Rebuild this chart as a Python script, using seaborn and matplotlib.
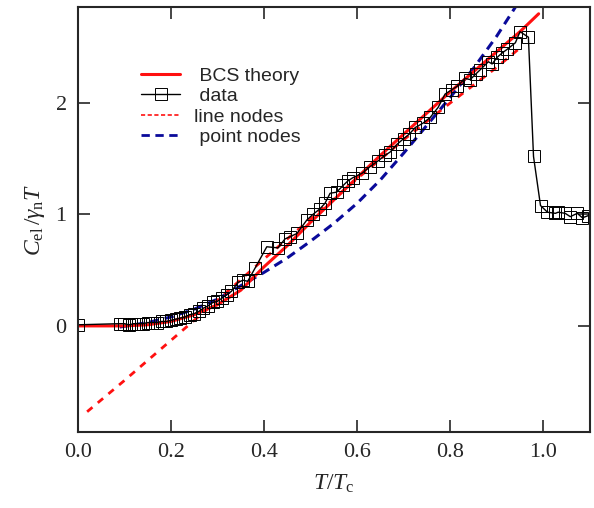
import seaborn as sns
import pandas as pd
import matplotlib.pyplot as plt
from matplotlib.lines import Line2D

# measured specific heat (T/Tc, C_el/gamma_n T)
data_T = [0.0, 0.09, 0.10, 0.11, 0.12, 0.13, 0.14, 0.15, 0.16, 0.17, 0.18, 0.19,
          0.20, 0.21, 0.22, 0.23, 0.24, 0.25, 0.26, 0.27, 0.28, 0.29, 0.30, 0.31,
          0.32, 0.33, 0.344, 0.355, 0.365, 0.381, 0.406, 0.43, 0.445, 0.456, 0.471,
          0.492, 0.505, 0.52, 0.531, 0.542, 0.556, 0.57, 0.58, 0.591, 0.611, 0.628,
          0.645, 0.66, 0.671, 0.686, 0.70, 0.712, 0.725, 0.742, 0.757, 0.774, 0.789,
          0.804, 0.815, 0.832, 0.843, 0.855, 0.865, 0.882, 0.89, 0.901, 0.912, 0.922,
          0.94, 0.95, 0.968, 0.979, 0.994, 1.009, 1.026, 1.032, 1.047, 1.058, 1.073,
          1.084, 1.097]
data_C = [0.01, 0.02, 0.02, 0.01, 0.02, 0.02, 0.02, 0.03, 0.03, 0.03, 0.04, 0.04,
          0.05, 0.06, 0.07, 0.08, 0.10, 0.11, 0.13, 0.16, 0.18, 0.21, 0.22, 0.25,
          0.28, 0.31, 0.39, 0.41, 0.40, 0.52, 0.71, 0.70, 0.78, 0.80, 0.83,
          0.95, 1.00, 1.05, 1.10, 1.19, 1.20, 1.26, 1.30, 1.33, 1.37, 1.43,
          1.48, 1.53, 1.56, 1.63, 1.68, 1.72, 1.78, 1.82, 1.87, 1.96, 2.08,
          2.12, 2.15, 2.22, 2.21, 2.26, 2.30, 2.37, 2.35, 2.41, 2.45, 2.48,
          2.54, 2.64, 2.59, 1.52, 1.08, 1.02, 1.01, 1.02, 1.01, 0.98, 1.01,
          0.97, 0.99]

# BCS theory curve
bcs_T = [0.0, 0.05, 0.10, 0.15, 0.20, 0.25, 0.30, 0.35, 0.40, 0.45, 0.50, 0.55,
         0.60, 0.65, 0.70, 0.75, 0.80, 0.85, 0.90, 0.95, 0.99]
bcs_C = [0.0, 0.0, 0.0, 0.01, 0.04, 0.10, 0.19, 0.32, 0.53, 0.72, 0.93, 1.13,
         1.33, 1.53, 1.72, 1.91, 2.10, 2.28, 2.46, 2.64, 2.80]

# line nodes
line_T = [0.02, 0.10, 0.20, 0.30, 0.40, 0.50, 0.60, 0.70, 0.80, 0.90, 0.946]
line_C = [-0.77, -0.49, -0.13, 0.23, 0.60, 0.96, 1.32, 1.67, 2.00, 2.32, 2.48]

# point nodes
point_T = [0.09, 0.15, 0.20, 0.25, 0.30, 0.35, 0.40, 0.45, 0.50, 0.55, 0.60,
           0.65, 0.70, 0.75, 0.80, 0.85, 0.90, 0.94]
point_C = [-0.01, 0.03, 0.08, 0.15, 0.24, 0.36, 0.48, 0.61, 0.76, 0.92, 1.10,
           1.31, 1.55, 1.80, 2.05, 2.31, 2.60, 2.86]

sns.set_theme(style="ticks", rc={
    "axes.linewidth": 1.5,
    "xtick.direction": "in", "ytick.direction": "in",
    "xtick.top": True, "ytick.right": True,
    "xtick.major.size": 8.5, "ytick.major.size": 8.5,
    "xtick.major.width": 1.2, "ytick.major.width": 1.2,
    "mathtext.fontset": "custom",
    "mathtext.rm": "Liberation Serif",
    "mathtext.it": "Liberation Serif:italic",
})
plt.rcParams["font.family"] = ["Liberation Serif", "DejaVu Serif"]

fig = plt.figure(figsize=(5.94, 5.08), dpi=100)
ax = fig.add_axes([0.131, 0.150, 0.862, 0.836])

sns.lineplot(x=point_T, y=point_C, ax=ax, color="#0a0a9a", lw=2.2,
             linestyle=(0, (3, 2)), sort=False)
sns.lineplot(x=line_T, y=line_C, ax=ax, color="#ff1010", lw=2.0,
             linestyle=(0, (2.5, 2.5)), sort=False)
sns.lineplot(x=bcs_T, y=bcs_C, ax=ax, color="#ff1010", lw=2.2, sort=False)
sns.lineplot(x=data_T, y=data_C, ax=ax, color="black", lw=1.0, sort=False,
             marker="s", markersize=8, markerfacecolor="none",
             markeredgecolor="black", markeredgewidth=0.7)

ax.set_xlim(0, 1.1)
ax.set_ylim(-0.95, 2.86)
ax.set_xticks([0.0, 0.2, 0.4, 0.6, 0.8, 1.0])
ax.set_xticklabels(["0.0", "0.2", "0.4", "0.6", "0.8", "1.0"])
ax.set_yticks([0, 1, 2])
ax.set_yticklabels(["0", "1", "2"])
ax.tick_params(labelsize=16, pad=8)
ax.set_xlabel(r"$T/T_{\rm c}$", fontsize=17, labelpad=8)
ax.set_ylabel(r"$C_{\rm el}\,/\gamma_{\rm n}T$", fontsize=17, labelpad=6)

handles = [
    Line2D([], [], color="#ff1010", lw=2.2),
    Line2D([], [], color="black", lw=1.0, marker="s", markersize=8,
           markerfacecolor="none", markeredgewidth=0.7),
    Line2D([], [], color="#ff1010", lw=1.2, linestyle=(0, (2.5, 1.5))),
    Line2D([], [], color="#0a0a9a", lw=2.0, linestyle=(0, (3, 2))),
]
labels = [" BCS theory", " data", "line nodes", " point nodes"]
ax.legend(handles, labels, loc="upper left", bbox_to_anchor=(0.09, 0.90),
          frameon=False, fontsize=14, handlelength=2.0, handletextpad=0.7,
          labelspacing=0.15, prop={"family": "Liberation Sans", "size": 14})

fig.savefig("out.png", dpi=100)
